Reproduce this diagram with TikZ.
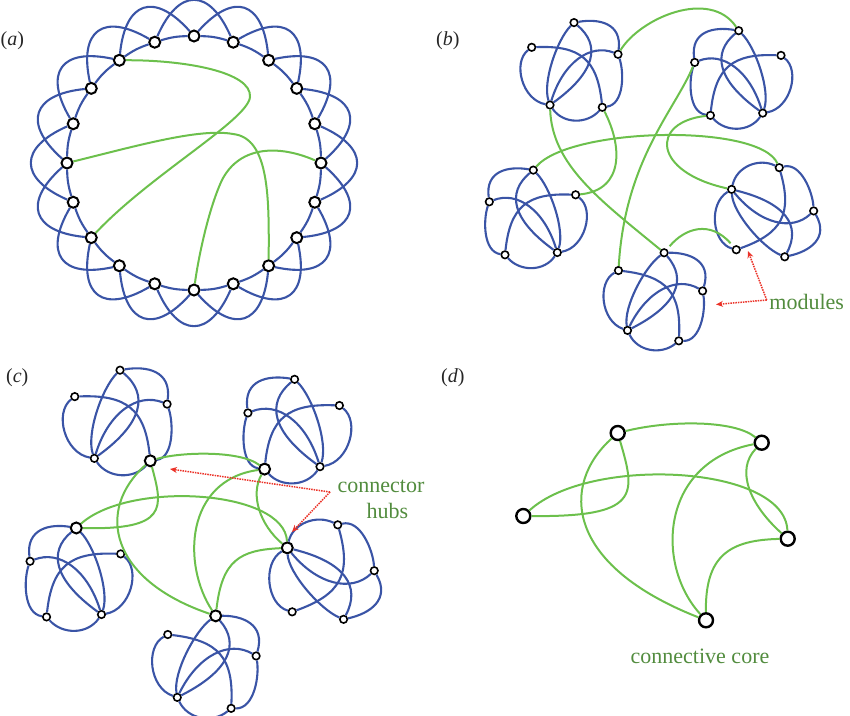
\documentclass[tikz,border=0pt]{standalone}
\usepackage{fontspec}
\setmainfont{Liberation Serif}
\usetikzlibrary{arrows.meta}
\definecolor{mblue}{RGB}{58,84,166}
\definecolor{mgreen}{RGB}{108,192,76}
\definecolor{tgreen}{RGB}{82,140,62}
\definecolor{mred}{RGB}{235,50,40}
\tikzset{
  be/.style={mblue, line width=2.1pt},
  ge/.style={mgreen, line width=2pt},
  an/.style={circle, draw=black, fill=white, line width=2pt, minimum size=11pt, inner sep=0pt},
  sn/.style={circle, draw=black, fill=white, line width=1.6pt, minimum size=7.5pt, inner sep=0pt},
  hn/.style={circle, draw=black, fill=white, line width=2pt, minimum size=11pt, inner sep=0pt},
  dn/.style={circle, draw=black, fill=white, line width=2.4pt, minimum size=14pt, inner sep=0pt},
  rarr/.style={mred, line width=1.5pt, densely dotted, -{Stealth[length=7pt,width=6pt]}},
  lab/.style={font=\fontsize{20}{24}\selectfont, text=black!85, inner sep=0pt},
  glab/.style={font=\fontsize{22}{26}\selectfont, text=tgreen, inner sep=0pt, anchor=base},
  kA/.style={sn}, kB/.style={sn}, kC/.style={sn}, kD/.style={sn}, kE/.style={sn},
  modT/.pic={
    \node[kA] (-A) at (-1.2,-44.7) {};
    \node[kB] (-B) at (-43.5,-20) {};
    \node[kC] (-C) at (42.8,-13) {};
    \node[kD] (-D) at (-25.2,37.7) {};
    \node[kE] (-E) at (27.1,40) {};
    \draw[be] (-A) .. controls (24,-49) and (47,-44) .. (-C);
    \draw[be] (-C) .. controls (49,5) and (49,37) .. (-E);
    \draw[be] (-A) .. controls (-18,-28) and (-33,15) .. (-D);
    \draw[be] (-A) .. controls (26,-22) and (20,5) .. (-D);
    \draw[be] (-B) .. controls (5,-22) and (22,-8) .. (-E);
    \draw[be] (-B) .. controls (-63,-5) and (-53,33) .. (-D);
    \draw[be] (-C) .. controls (15,-24) and (-12,-5) .. (-D);
    \draw[be] (-D) .. controls (-12,57) and (12,57) .. (-E);
  }
}
\begin{document}
\begin{tikzpicture}[x=1pt,y=-1pt]
\useasboundingbox (0,0) rectangle (850,715);

% ---------- (a) ----------
\begin{scope}[shift={(194,163)}]
  \foreach \k in {0,...,19}{ \node[an] (a\k) at ({-90+18*\k}:127) {}; }
  \foreach \k in {0,...,19}{
    \pgfmathtruncatemacro\kj{mod(\k+1,20)}
    \pgfmathtruncatemacro\kk{mod(\k+2,20)}
    \draw[be] (a\k) to[bend left=8] (a\kj);
    \draw[be] (a\k) .. controls ({-90+18*\k+13}:176) and ({-90+18*\k+23}:176) .. (a\kk);
  }
\end{scope}
\draw[ge] (a18) .. controls (185,60) and (252,72) .. (250,97) .. controls (248,120) and (150,175) .. (a13);
\draw[ge] (a15) .. controls (140,145) and (200,128) .. (233,134) .. controls (270,138) and (269,200) .. (a8);
\draw[ge] (a5) .. controls (280,145) and (240,145) .. (222,180) .. controls (208,210) and (198,260) .. (a10);

% ---------- (b) ----------
\pic[shift={(575.2,67.3)}] (bTL) {modT};
\pic[shift={(737.5,75.4)}, xscale=-1] (bTR) {modT};
\pic[shift={(532.1,214.8)}, xscale=-1] (bL) {modT};
\pic[shift={(769.1,214.9)}, rotate=-158, xscale=-1] (bR) {modT};
\pic[shift={(658.3,297.1)}, rotate=-9] (bB) {modT};

\draw[ge] (bTL-C) .. controls (640,18) and (710,-12) .. (bTR-A);
\draw[ge] (bTL-D) .. controls (552,165) and (600,200) .. (bB-A);
\draw[ge] (bTL-E) .. controls (622,145) and (625,190) .. (bL-B);
\draw[ge] (bL-A) .. controls (570,127) and (760,123) .. (bR-E);
\draw[ge] (bTR-C) .. controls (675,110) and (625,160) .. (bB-B);
\draw[ge] (bTR-E) .. controls (650,122) and (652,172) .. (bR-D);
\draw[ge, shorten <=4pt, shorten >=4pt] (bB-A) .. controls (685,228) and (710,220) .. (bR-B);

\node[glab] (tmod) at (806.7,309.3) {modules};
\coordinate (jb) at (766.7,300);
\coordinate (tb1) at (716,304.5);
\coordinate (tb2) at (748,251);
\draw[rarr] (jb) -- (tb1);
\draw[rarr] (jb) -- (tb2);

% ---------- (c) ----------
\pic[shift={(121.3,418)}, scale=1.07, kE/.style={hn}] (cTL) {modT};
\pic[shift={(293.3,426.7)}, scale=1.06, xscale=-1, kE/.style={hn}] (cTR) {modT};
\pic[shift={(75,574.9)}, scale=1.05, xscale=-1, kA/.style={hn}] (cL) {modT};
\pic[shift={(327,574.9)}, scale=1.06, rotate=-158, xscale=-1, kD/.style={hn}] (cR) {modT};
\pic[shift={(209.6,662.4)}, scale=1.05, rotate=-9, kA/.style={hn}] (cB) {modT};

\draw[ge] (cTL-E) .. controls (180,452) and (240,450) .. (cTR-E);
\draw[ge] (cTL-E) .. controls (163,508) and (168,530) .. (cL-A);
\draw[ge] (cTL-E) .. controls (95,510) and (110,580) .. (cB-A);
\draw[ge] (cL-A) .. controls (130,480) and (285,490) .. (cR-D);
\draw[ge] (cTR-E) .. controls (185,480) and (182,565) .. (cB-A);
\draw[ge] (cTR-E) .. controls (250,495) and (260,525) .. (cR-D);
\draw[ge] (cR-D) .. controls (240,550) and (222,560) .. (cB-A);

\node[glab] (tcon) at (381,492) {connector};
\node[glab] (thub) at (387.3,518.7) {hubs};
\coordinate (jc) at (330,492);
\coordinate (tc1) at (170,469);
\coordinate (tc2) at (292,532);
\draw[rarr] (jc) -- (tc1);
\draw[rarr] (jc) -- (tc2);

% ---------- (d) ----------
\node[dn] (n1) at (617.7,433) {};
\node[dn] (n2) at (761.7,442.7) {};
\node[dn] (n3) at (523.3,516) {};
\node[dn] (n4) at (787.7,538.7) {};
\node[dn] (n5) at (706,620.3) {};
\draw[ge] (n1) .. controls (670,420) and (735,420) .. (n2);
\draw[ge] (n1) .. controls (636,495) and (640,517) .. (n3);
\draw[ge] (n1) .. controls (560,485) and (565,565) .. (n5);
\draw[ge] (n3) .. controls (590,455) and (785,465) .. (n4);
\draw[ge] (n2) .. controls (660,462) and (655,565) .. (n5);
\draw[ge] (n2) .. controls (735,470) and (750,505) .. (n4);
\draw[ge] (n4) .. controls (730,540) and (705,555) .. (n5);
\node[glab] (tcore) at (700,663.7) {connective core};

% ---------- panel labels ----------
\node[lab, anchor=base west] (la) at (0.5,45) {(\textit{a})};
\node[lab, anchor=base west] (lb) at (436,45) {(\textit{b})};
\node[lab, anchor=base west] (lc) at (6,382) {(\textit{c})};
\node[lab, anchor=base west] (ld) at (441,382) {(\textit{d})};
\end{tikzpicture}
\end{document}
